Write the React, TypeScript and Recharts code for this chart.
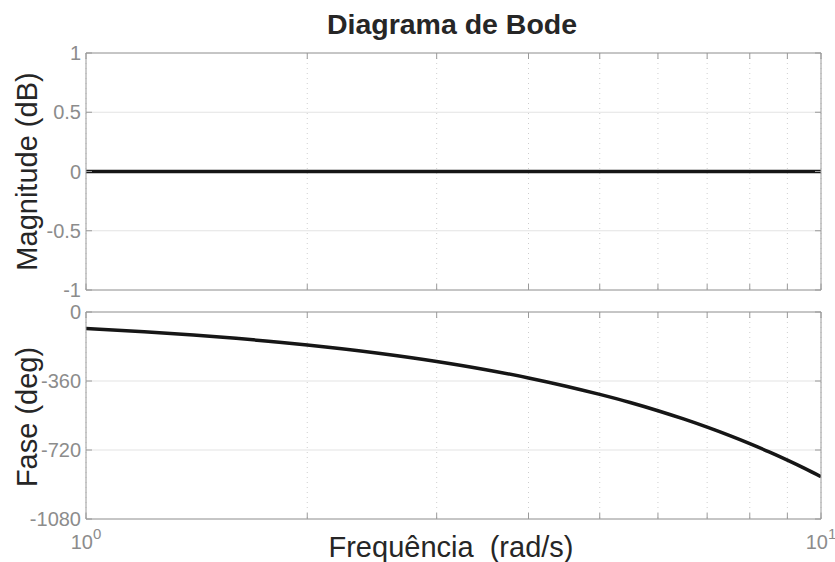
import { LineChart, Line, XAxis, YAxis, CartesianGrid } from 'recharts';

// frequências (rad/s) e resposta
const freq = [1, 1.2, 1.4, 1.6, 1.8, 2, 2.5, 3, 3.5, 4, 4.5, 5, 5.5, 6, 6.5, 7, 7.5, 8, 8.5, 9, 9.5, 10];
const magDb = [0, 0, 0, 0, 0, 0, 0, 0, 0, 0, 0, 0, 0, 0, 0, 0, 0, 0, 0, 0, 0, 0];
const phaseDeg = [-86, -103, -120, -137, -155, -172, -215, -258, -301, -344, -387, -430, -472, -515, -558, -601, -644, -687, -730, -773, -816, -859];

const xTicks = [1, 2, 3, 4, 5, 6, 7, 8, 9, 10];
const magTicks = [-1, -0.5, 0, 0.5, 1];
const phaseTicks = [-1080, -720, -360, 0];

const data = freq.map((f, i) => ({ f, mag: magDb[i], phase: phaseDeg[i] }));

const BOX = '#9a9a9a';
const TICK_TXT = '#8c8c8c';
const LBL = '#262626';
const FONT = '"Liberation Sans", Arial, Helvetica, sans-serif';
const TL = 6;

const BottomTick = ({ x, y, payload, labels }: any) => {
  const v = payload.value;
  const exp = v === 1 ? '0' : v === 10 ? '1' : null;
  return (
    <g>
      <line x1={x} x2={x} y1={y} y2={y - TL} stroke={BOX} />
      {labels && exp !== null && (
        <text x={x} y={y + 30} textAnchor="middle" fill={TICK_TXT} fontSize={20} fontFamily={FONT}>
          10<tspan dy={-10} fontSize={15}>{exp}</tspan>
        </text>
      )}
    </g>
  );
};

const TopTick = ({ x, y }: any) => <line x1={x} x2={x} y1={y} y2={y + TL} stroke={BOX} />;

const LeftTick = ({ x, y, payload }: any) => (
  <g>
    <line x1={x} x2={x + TL} y1={y} y2={y} stroke={BOX} />
    <text x={x - 5} y={y} dy={7} textAnchor="end" fill={TICK_TXT} fontSize={20} fontFamily={FONT}>
      {payload.value}
    </text>
  </g>
);

const RightTick = ({ x, y }: any) => <line x1={x} x2={x - TL} y1={y} y2={y} stroke={BOX} />;

function Panel({ dataKey, ticks, domain, showX, height, margin }: any) {
  return (
    <LineChart width={835} height={height} data={data} margin={margin}>
      <CartesianGrid vertical={false} stroke="#e3e3e3" strokeWidth={1} />
      <CartesianGrid horizontal={false} stroke="#cfcfcf" strokeDasharray="1 4" />
      <XAxis
        dataKey="f" type="number" scale="log" domain={[1, 10]} ticks={xTicks} allowDataOverflow
        height={1} tickSize={0} tickMargin={0} tickLine={false} axisLine={{ stroke: BOX }}
        tick={<BottomTick labels={showX} />} interval={0}
      />
      <XAxis
        xAxisId="top" orientation="top" dataKey="f" type="number" scale="log" domain={[1, 10]} ticks={xTicks}
        allowDataOverflow height={1} tickSize={0} tickMargin={0} tickLine={false} axisLine={{ stroke: BOX }}
        tick={<TopTick />} interval={0}
      />
      <YAxis
        type="number" domain={domain} ticks={ticks} allowDataOverflow width={1} tickSize={0} tickMargin={0}
        tickLine={false} axisLine={{ stroke: BOX }} tick={<LeftTick />} interval={0}
      />
      <YAxis
        yAxisId="right" orientation="right" type="number" domain={domain} ticks={ticks} allowDataOverflow width={1}
        tickSize={0} tickMargin={0} tickLine={false} axisLine={{ stroke: BOX }} tick={<RightTick />} interval={0}
      />
      <Line type="monotone" dataKey={dataKey} stroke="#161616" strokeWidth={3.5} dot={false} isAnimationActive={false} />
    </LineChart>
  );
}

export default function App() {
  return (
    <div style={{ position: 'fixed', left: 0, top: 0, width: 835, height: 562, background: '#fff', fontFamily: FONT }}>
      <div style={{ position: 'absolute', left: 0, top: 0 }}>
        <Panel dataKey="mag" ticks={magTicks} domain={[-1, 1]} showX={false} height={300}
          margin={{ top: 52, right: 13, bottom: 9, left: 85 }} />
      </div>
      <div style={{ position: 'absolute', left: 0, top: 300 }}>
        <Panel dataKey="phase" ticks={phaseTicks} domain={[-1080, 0]} showX height={262}
          margin={{ top: 11, right: 13, bottom: 42, left: 85 }} />
      </div>
      <svg width={835} height={562} style={{ position: 'absolute', left: 0, top: 0, pointerEvents: 'none' }}>
        <text x={452} y={33.5} textAnchor="middle" fontSize={28.5} fontWeight="bold" fill={LBL} fontFamily={FONT}>
          Diagrama de Bode
        </text>
        <text x={37} y={171.5} transform="rotate(-90 37 171.5)" textAnchor="middle" fontSize={29} fill={LBL} fontFamily={FONT}>
          Magnitude (dB)
        </text>
        <text x={37} y={417} transform="rotate(-90 37 417)" textAnchor="middle" fontSize={29} fill={LBL} fontFamily={FONT}>
          Fase (deg)
        </text>
        <text x={451} y={557} textAnchor="middle" fontSize={29} fill={LBL} fontFamily={FONT} style={{ whiteSpace: 'pre' }}>
          {'Frequência  (rad/s)'}
        </text>
      </svg>
    </div>
  );
}
